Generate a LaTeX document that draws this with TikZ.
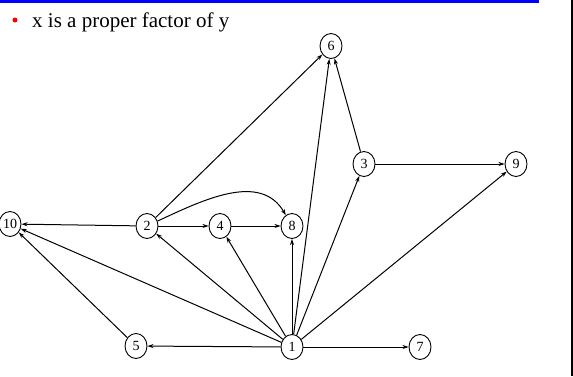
\documentclass[tikz,border=0pt]{standalone}
\usepackage{fontspec}
\setmainfont{Liberation Serif}
\usetikzlibrary{arrows.meta,shapes.geometric}
\begin{document}
\begin{tikzpicture}[x=1pt,y=-1pt,
  vtx/.style={draw,ellipse,line width=0.9pt,minimum width=22pt,minimum height=25pt,inner sep=0pt,font=\fontsize{14}{14}\selectfont},
  edge/.style={line width=1pt,-{Stealth[length=6pt,width=4pt]}}]
\useasboundingbox (0,0) rectangle (573,376);
\fill[white] (0,0) rectangle (573,376);
\fill[blue] (0,0) rectangle (539,3);
\fill[black] (571,0) rectangle (573,376);
\node[circle,fill=red,inner sep=0pt,minimum size=5pt] (bul) at (15,20) {};
\node[anchor=base west,inner sep=0pt,font=\fontsize{21}{21}\selectfont] (title) at (32,27) {x is a proper factor of y};
\node[vtx] (n6) at (331,46) {6};
\node[vtx] (n3) at (364,164) {3};
\node[vtx] (n9) at (516,164) {9};
\node[vtx] (n10) at (10,224) {10};
\node[vtx] (n2) at (147,226) {2};
\node[vtx] (n4) at (220,226) {4};
\node[vtx] (n8) at (292,226) {8};
\node[vtx] (n5) at (136,346) {5};
\node[vtx] (n1) at (292,347) {1};
\node[vtx] (n7) at (420,347) {7};
\draw[edge] (n2) -- (n6);
\draw[edge] (n2) -- (n10);
\draw[edge] (n2) -- (n4);
\draw[edge] (n4) -- (n8);
\draw[edge] (n2) to[out=25,in=120] (n8);
\draw[edge] (n3) -- (n6);
\draw[edge] (n3) -- (n9);
\draw[edge] (n1) -- (n6);
\draw[edge] (n1) -- (n3);
\draw[edge] (n1) -- (n9);
\draw[edge] (n1) -- (n8);
\draw[edge] (n1) -- (n4);
\draw[edge] (n1) -- (n2);
\draw[edge] (n1) -- (n10);
\draw[edge] (n1) -- (n5);
\draw[edge] (n1) -- (n7);
\draw[edge] (n5) -- (n10);
\end{tikzpicture}
\end{document}
